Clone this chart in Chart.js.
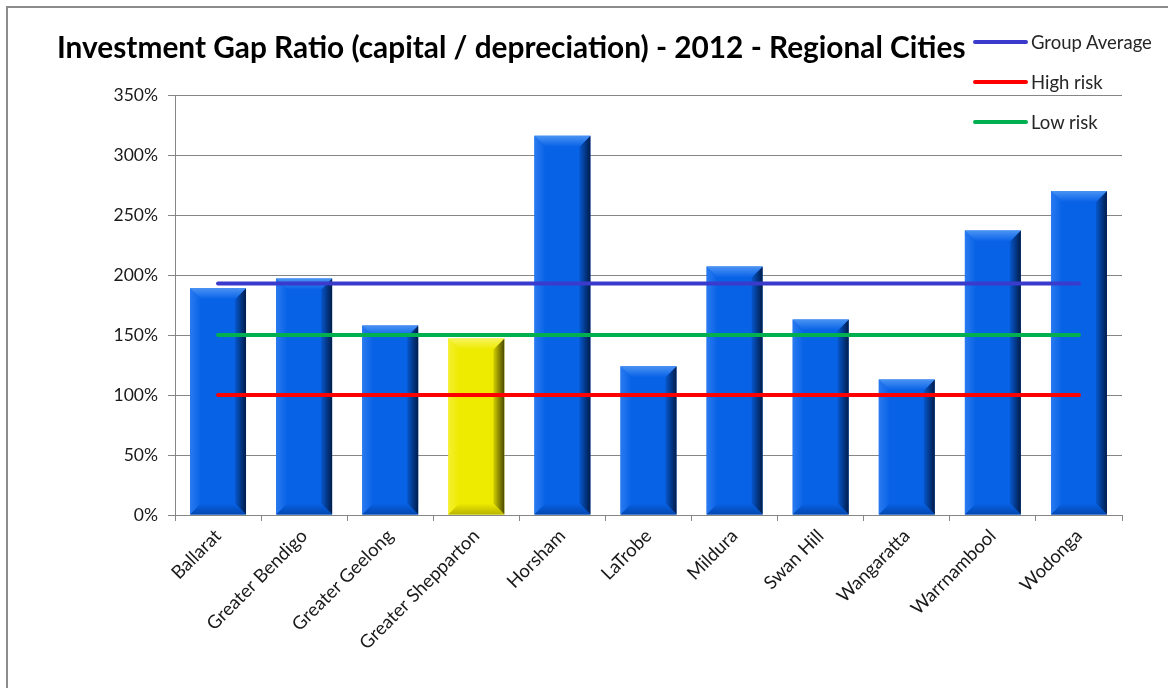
<!DOCTYPE html>
<html><head><meta charset="utf-8">
<script src="https://cdn.jsdelivr.net/npm/chart.js@4/dist/chart.umd.min.js"></script>
<style>
html,body{margin:0;padding:0;background:#fff;}
#wrap{position:relative;width:1168px;height:688px;overflow:hidden;background:#fff;}
#frame{position:absolute;left:6px;top:6px;width:1300px;height:900px;border-left:2px solid #8c8c8c;border-top:2px solid #8c8c8c;}
canvas{position:absolute;left:0;top:0;}
#legend{position:absolute;left:973px;top:31px;font-family:Lato,"Open Sans",sans-serif;font-size:18.5px;color:#262626;}
.item{position:absolute;left:0;height:22px;white-space:nowrap;}
.sw{position:absolute;left:0;top:9px;width:55px;height:4px;border-radius:2px;}
.lab{position:absolute;left:58px;top:0;line-height:22px;}
</style></head>
<body><div id="wrap"><div id="frame"></div><canvas id="c" width="1168" height="688"></canvas><div id="legend"></div></div>
<script>
const titleText = "Investment Gap Ratio (capital / depreciation) - 2012 - Regional Cities";
const categories = ["Ballarat","Greater Bendigo","Greater Geelong","Greater Shepparton","Horsham","LaTrobe","Mildura","Swan Hill","Wangaratta","Warrnambool","Wodonga"];
const gapRatio = [189,197,158,147,316,124,207,163,113,237,270];
const highlightedCity = "Greater Shepparton";
const groupAverage = [193,193,193,193,193,193,193,193,193,193,193];
const highRisk = [100,100,100,100,100,100,100,100,100,100,100];
const lowRisk = [150,150,150,150,150,150,150,150,150,150,150];
const lineLabels = ["Group Average","High risk","Low risk"];
const yMin = 0, yMax = 350, yStep = 50;

const FONT = 'Lato, "Open Sans", sans-serif';
const blue = {main:'#0862e6', light:'#4a93f4', dark:'#001c4a', bottom:'#0347b0', left:'#2a7af0'};
const yellow = {main:'#eeea00', light:'#f7f45a', dark:'#4a4800', bottom:'#b8b400', left:'#f4f030'};
const pal = i => categories[i] === highlightedCity ? yellow : blue;

const bevelPlugin = {
  id:'bevel',
  afterDatasetDraw(chart, args){
    if(args.index !== 0) return;
    const ctx = chart.ctx;
    const meta = chart.getDatasetMeta(0);
    meta.data.forEach((el, i) => {
      const p = el.getProps(['x','y','base','width'], true);
      const l = p.x - p.width/2, r = p.x + p.width/2, t = p.y, b = p.base;
      const c = pal(i);
      const d = Math.min(11, (b - t)/2);
      ctx.save();
      let g = ctx.createLinearGradient(l,0,l+d,0);
      g.addColorStop(0,c.left); g.addColorStop(1,c.main);
      ctx.fillStyle = g;
      ctx.beginPath(); ctx.moveTo(l,t); ctx.lineTo(l+d,t+d); ctx.lineTo(l+d,b-d); ctx.lineTo(l,b); ctx.closePath(); ctx.fill();
      g = ctx.createLinearGradient(r-d-2,0,r,0);
      g.addColorStop(0,c.main); g.addColorStop(1,c.dark);
      ctx.fillStyle = g;
      ctx.beginPath(); ctx.moveTo(r,t); ctx.lineTo(r-d,t+d); ctx.lineTo(r-d,b-d); ctx.lineTo(r,b); ctx.closePath(); ctx.fill();
      g = ctx.createLinearGradient(0,t,0,t+d);
      g.addColorStop(0,c.light); g.addColorStop(1,c.main);
      ctx.fillStyle = g;
      ctx.beginPath(); ctx.moveTo(l,t); ctx.lineTo(r,t); ctx.lineTo(r-d,t+d); ctx.lineTo(l+d,t+d); ctx.closePath(); ctx.fill();
      g = ctx.createLinearGradient(0,b-d,0,b);
      g.addColorStop(0,c.main); g.addColorStop(1,c.bottom);
      ctx.fillStyle = g;
      ctx.beginPath(); ctx.moveTo(l,b); ctx.lineTo(r,b); ctx.lineTo(r-d,b-d); ctx.lineTo(l+d,b-d); ctx.closePath(); ctx.fill();
      ctx.restore();
    });
  }
};

const titlePlugin = {
  id:'ctitle',
  afterDraw(chart){
    const ctx = chart.ctx;
    ctx.save();
    ctx.font = 'bold 29.8px ' + FONT;
    ctx.fillStyle = '#000';
    ctx.textBaseline = 'middle';
    ctx.textAlign = 'left';
    ctx.fillText(titleText, 57, 48);
    ctx.restore();
  }
};

const lineDs = (label, data, color) => ({
  type:'line', label, data, borderColor:color, backgroundColor:color,
  borderWidth:4, pointRadius:0, borderCapStyle:'round', tension:0, order:0
});

new Chart(document.getElementById('c'), {
  data:{
    labels:categories,
    datasets:[
      {type:'bar', label:'Investment Gap Ratio', data:gapRatio,
       backgroundColor: categories.map((c,i)=>pal(i).main),
       borderWidth:0, categoryPercentage:0.65, barPercentage:1, order:1},
      lineDs(lineLabels[0], groupAverage, '#3a3acc'),
      lineDs(lineLabels[1], highRisk, '#ff0000'),
      lineDs(lineLabels[2], lowRisk, '#00b050')
    ]
  },
  options:{
    responsive:false, devicePixelRatio:1, animation:false,
    layout:{padding:{left:0,right:46,top:95,bottom:0}},
    plugins:{legend:{display:false}, title:{display:false}, tooltip:{enabled:false}},
    scales:{
      x:{
        grid:{drawOnChartArea:false, color:'#868686', tickLength:6, offset:true},
        border:{color:'#868686', width:1},
        ticks:{font:{family:FONT,size:18.5}, color:'#1a1a1a', maxRotation:45, minRotation:45, autoSkip:false, padding:4},
        afterFit(s){ s.height = 173; }
      },
      y:{
        min:yMin, max:yMax,
        grid:{color:'#868686', tickLength:7},
        border:{color:'#868686', width:1},
        ticks:{stepSize:yStep, font:{family:FONT,size:17.5}, color:'#1a1a1a', padding:10, callback:v=>v+'%'},
        afterFit(s){ s.width = 175; }
      }
    }
  },
  plugins:[bevelPlugin, titlePlugin]
});

const legendColors = ['#3a3acc','#ff0000','#00b050'];
const lg = document.getElementById('legend');
lineLabels.forEach((t,i)=>{
  const it = document.createElement('div'); it.className='item'; it.style.top=(i*40)+'px';
  const sw = document.createElement('div'); sw.className='sw'; sw.style.background=legendColors[i];
  const lb = document.createElement('div'); lb.className='lab'; lb.textContent=t;
  it.appendChild(sw); it.appendChild(lb); lg.appendChild(it);
});
</script>
</body></html>
